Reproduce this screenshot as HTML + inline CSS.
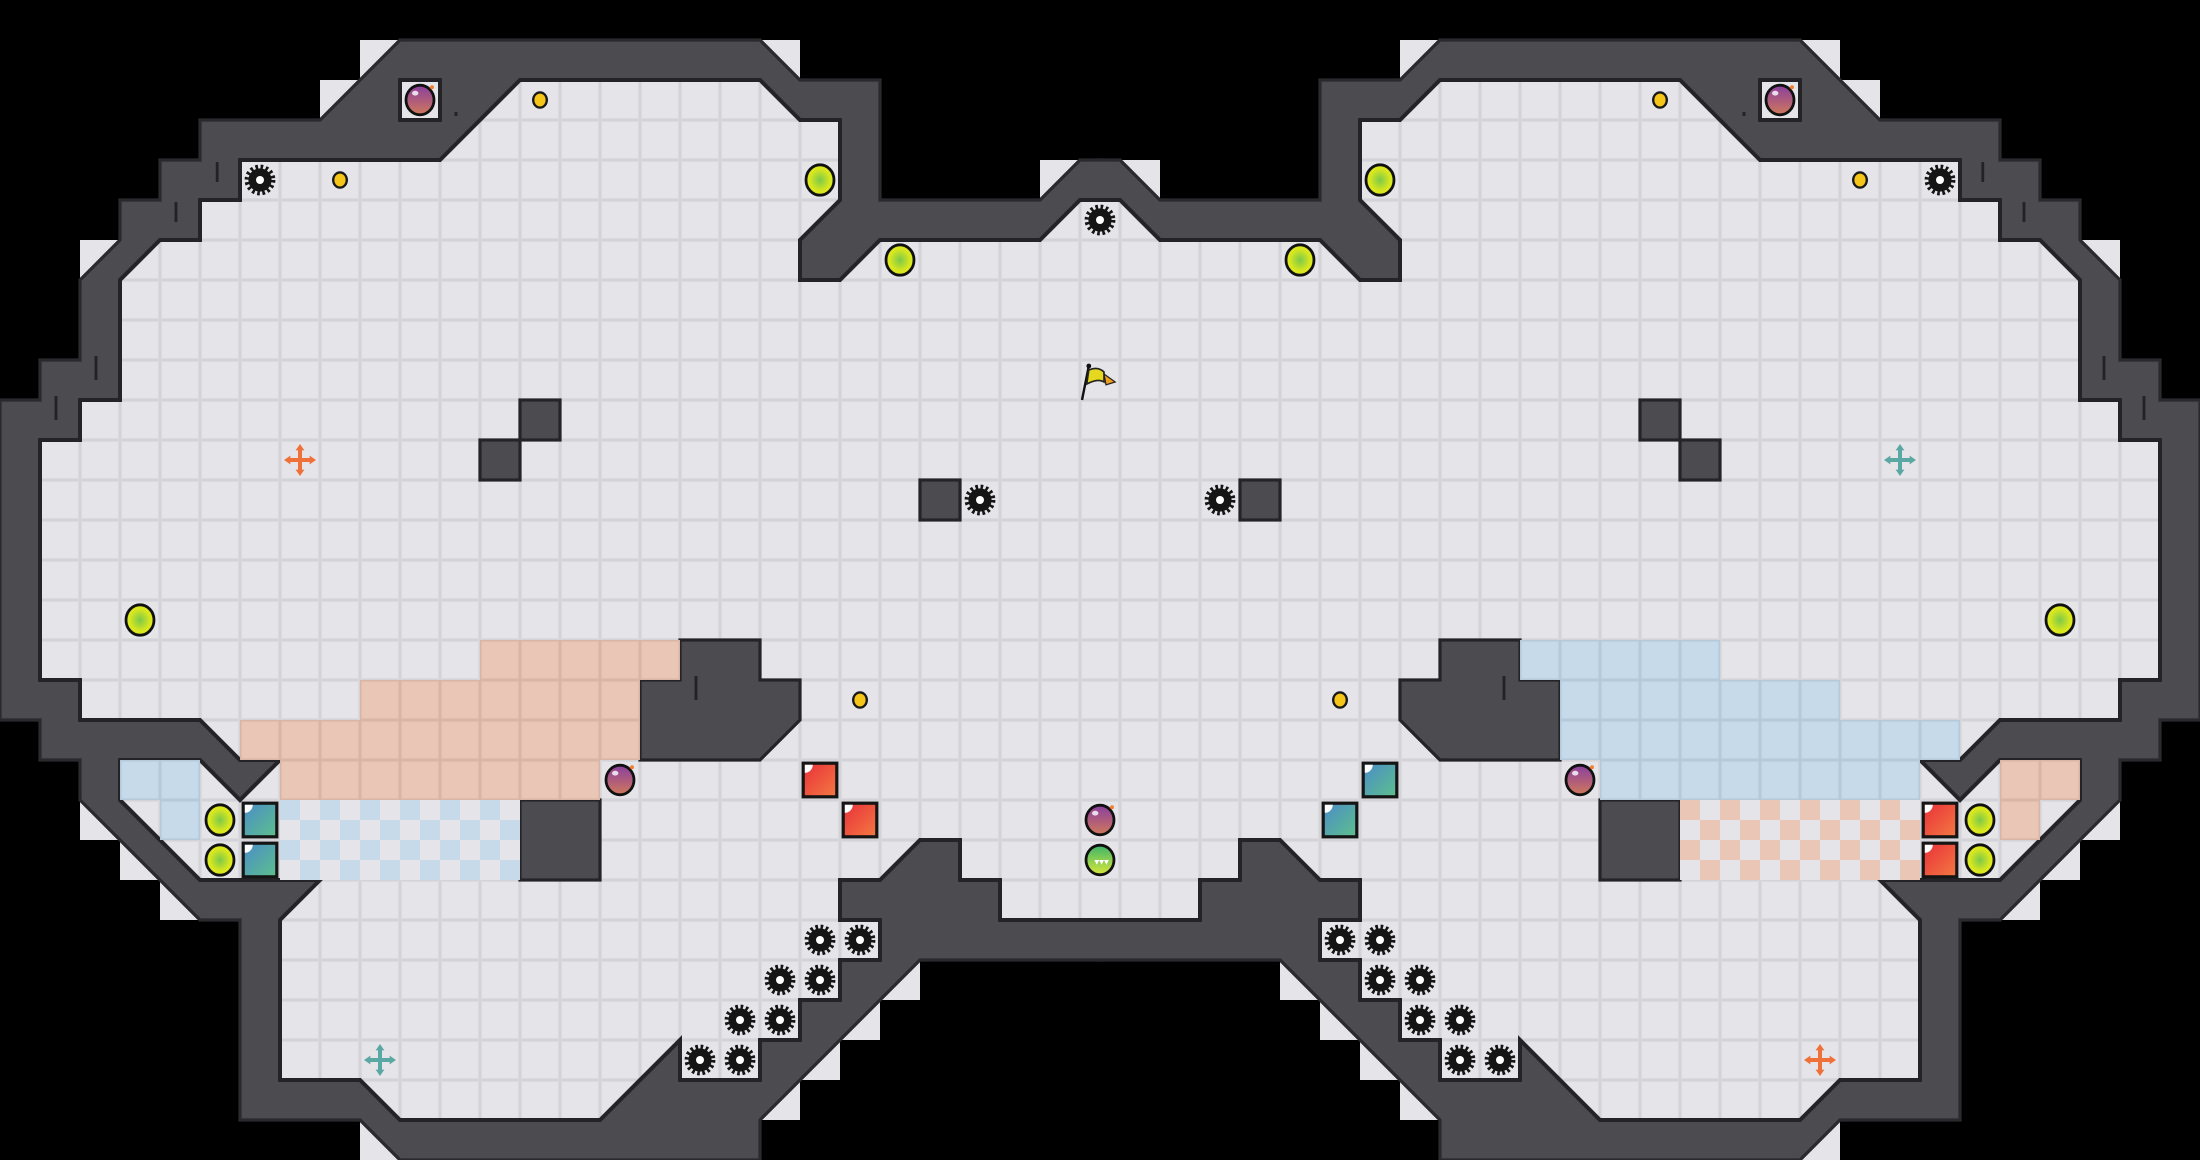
<!DOCTYPE html>
<html><head><meta charset="utf-8"><style>html,body{margin:0;padding:0;background:#000}svg{display:block}</style></head>
<body>
<svg width="2200" height="1160" viewBox="0 0 55 29" preserveAspectRatio="none" xmlns="http://www.w3.org/2000/svg">
<defs>
<pattern id="grid" width="1" height="1" patternUnits="userSpaceOnUse">
<rect width="1" height="1" fill="#d3d3d8"/><rect x="0.04" y="0.04" width="0.92" height="0.92" fill="#e5e5e9"/>
</pattern>
<pattern id="sal" width="1" height="1" patternUnits="userSpaceOnUse">
<rect width="1" height="1" fill="#d9b6a6"/><rect x="0.04" y="0.04" width="0.92" height="0.92" fill="#e9c6b6"/>
</pattern>
<pattern id="blu" width="1" height="1" patternUnits="userSpaceOnUse">
<rect width="1" height="1" fill="#b5cbdb"/><rect x="0.04" y="0.04" width="0.92" height="0.92" fill="#c6dae9"/>
</pattern>
<pattern id="chkb" width="1" height="1" patternUnits="userSpaceOnUse">
<rect width="1" height="1" fill="#e5e5e9"/><rect width="0.5" height="0.5" fill="#c6dae9"/><rect x="0.5" y="0.5" width="0.5" height="0.5" fill="#c6dae9"/>
</pattern>
<pattern id="chks" width="1" height="1" patternUnits="userSpaceOnUse">
<rect width="1" height="1" fill="#e5e5e9"/><rect width="0.5" height="0.5" fill="#e9c6b6"/><rect x="0.5" y="0.5" width="0.5" height="0.5" fill="#e9c6b6"/>
</pattern>
<radialGradient id="orbg" cx="0.5" cy="0.5" r="0.5"><stop offset="0" stop-color="#7cc84a"/><stop offset="0.75" stop-color="#dbe81e"/></radialGradient>
<linearGradient id="bombg" x1="0" y1="0" x2="0" y2="1"><stop offset="0" stop-color="#8a3f9e"/><stop offset="1" stop-color="#d0785a"/></linearGradient>
<linearGradient id="redg" x1="0" y1="0" x2="1" y2="1"><stop offset="0" stop-color="#e8303a"/><stop offset="1" stop-color="#f47a42"/></linearGradient>
<linearGradient id="tealg" x1="0" y1="0" x2="1" y2="1"><stop offset="0" stop-color="#4a8cc8"/><stop offset="1" stop-color="#5ec08c"/></linearGradient>
<linearGradient id="chompg" x1="0" y1="0" x2="0" y2="1"><stop offset="0" stop-color="#3cb46a"/><stop offset="1" stop-color="#d8e83a"/></linearGradient>

<g id="spike"><circle r="0.33" fill="none" stroke="#151515" stroke-width="0.11" stroke-dasharray="0.065 0.065"/><circle r="0.29" fill="#151515"/><circle r="0.1" fill="#fff"/></g>
<g id="coin"><ellipse rx="0.17" ry="0.19" fill="#f5c518" stroke="#1a1a1a" stroke-width="0.06"/></g>
<g id="orb"><ellipse rx="0.35" ry="0.38" fill="url(#orbg)" stroke="#111" stroke-width="0.07"/></g>
<g id="bomb"><ellipse rx="0.35" ry="0.37" fill="url(#bombg)" stroke="#111" stroke-width="0.07"/><ellipse cx="-0.12" cy="-0.17" rx="0.08" ry="0.06" fill="#fff" opacity="0.8"/><circle cx="0.3" cy="-0.32" r="0.05" fill="#f08030"/></g>
<g id="red"><rect x="-0.42" y="-0.42" width="0.84" height="0.84" fill="url(#redg)" stroke="#151515" stroke-width="0.08"/><path d="M-0.38,-0.38 h0.2 a0.2,0.2 0 0 1 -0.2,0.2z" fill="#fff"/></g>
<g id="teal"><rect x="-0.42" y="-0.42" width="0.84" height="0.84" fill="url(#tealg)" stroke="#151515" stroke-width="0.08"/><path d="M-0.38,-0.38 h0.2 a0.2,0.2 0 0 1 -0.2,0.2z" fill="#fff"/></g>
<g id="xor"><path d="M-0.3,0 H0.3 M0,-0.3 V0.3" stroke="#f0703a" stroke-width="0.1"/><path d="M-0.4,0 L-0.24,-0.11 L-0.24,0.11Z M0.4,0 L0.24,-0.11 L0.24,0.11Z M0,-0.4 L-0.11,-0.24 L0.11,-0.24Z M0,0.4 L-0.11,0.24 L0.11,0.24Z" fill="#f0703a"/></g>
<g id="xte"><path d="M-0.3,0 H0.3 M0,-0.3 V0.3" stroke="#5aa8a4" stroke-width="0.1"/><path d="M-0.4,0 L-0.24,-0.11 L-0.24,0.11Z M0.4,0 L0.24,-0.11 L0.24,0.11Z M0,-0.4 L-0.11,-0.24 L0.11,-0.24Z M0,0.4 L-0.11,0.24 L0.11,0.24Z" fill="#5aa8a4"/></g>

<g id="half">
  <g fill="#e5e5e9">
    <rect x="9" y="1" width="1" height="1"/><rect x="8" y="2" width="1" height="1"/><rect x="19" y="1" width="1" height="1"/>
    <rect x="26" y="4" width="1" height="1"/><rect x="2" y="6" width="1" height="1"/>
    <rect x="2" y="20" width="1" height="1"/><rect x="3" y="21" width="1" height="1"/><rect x="4" y="22" width="1" height="1"/>
    <rect x="9" y="28" width="1" height="1"/><rect x="19" y="27" width="1" height="1"/><rect x="20" y="26" width="1" height="1"/>
    <rect x="21" y="25" width="1" height="1"/><rect x="22" y="24" width="1" height="1"/>
  </g>
  <polygon fill="#4b4b50" points="27.6,4 27,4 26,5 22,5 22,2 20,2 19,1 10,1 8,3 5,3 5,4 4,4 4,5 3,5 3,6 2,7 2,9 1,9 1,10 0,10 0,18 1,18 1,19 2,19 2,20 5,23 6,23 6,28 9,28 10,29 19,29 19,28 23,24 27.6,24"/>
  <polyline fill="none" stroke="#2a2a2e" stroke-width="0.08" points="27.6,4 27,4 26,5 22,5 22,2 20,2 19,1 10,1 8,3 5,3 5,4 4,4 4,5 3,5 3,6 2,7 2,9 1,9 1,10 0,10 0,18 1,18 1,19 2,19 2,20 5,23 6,23 6,28 9,28 10,29 19,29 19,28 23,24 27.6,24"/>
  <polygon fill="url(#grid)" points="27.6,5 27,5 26,6 22,6 21,7 20,7 20,6 21,5 21,3 20,3 19,2 13,2 11,4 6,4 6,5 5,5 5,6 4,6 3,7 3,10 2,10 2,11 1,11 1,17 2,17 2,18 5,18 6,19 7,19 6,20 5,19 3,19 3,20 5,22 8,22 7,23 7,27 9,27 10,28 15,28 17,26 17,27 19,27 19,26 20,26 20,25 21,25 21,24 22,24 22,23 21,23 21,22 22,22 23,21 24,21 24,22 25,22 25,23 27.6,23"/>
  <polyline fill="none" stroke="#242428" stroke-width="0.1" points="27.6,5 27,5 26,6 22,6 21,7 20,7 20,6 21,5 21,3 20,3 19,2 13,2 11,4 6,4 6,5 5,5 5,6 4,6 3,7 3,10 2,10 2,11 1,11 1,17 2,17 2,18 5,18 6,19 7,19 6,20 5,19 3,19 3,20 5,22 8,22 7,23 7,27 9,27 10,28 15,28 17,26 17,27 19,27 19,26 20,26 20,25 21,25 21,24 22,24 22,23 21,23 21,22 22,22 23,21 24,21 24,22 25,22 25,23 27.6,23"/>
  <rect x="10" y="2" width="1" height="1" fill="#e5e5e9" stroke="#242428" stroke-width="0.1"/>
  <g fill="#4b4b50" stroke="#242428" stroke-width="0.08">
    <rect x="13" y="10" width="1" height="1"/><rect x="12" y="11" width="1" height="1"/><rect x="23" y="12" width="1" height="1"/>
    <rect x="13" y="20" width="2" height="2"/>
    <polygon points="17,16 19,16 19,17 20,17 20,18 19,19 16,19 16,17 17,17"/>
  </g>
  <g stroke="#232326" stroke-width="0.07">
    <path d="M5.43,4.05V4.55 M4.4,5.05V5.55 M2.4,8.9V9.5 M1.4,9.9V10.5 M17.4,16.9V17.5 M11.4,2.8V2.9"/>
  </g>
</g>
</defs>

<rect width="55" height="29" fill="#000"/>
<use href="#half"/>
<use href="#half" transform="translate(55,0) scale(-1,1)"/>

<g fill="url(#sal)">
  <rect x="12" y="16" width="5" height="1"/><rect x="9" y="17" width="7" height="1"/>
  <rect x="6" y="18" width="10" height="1"/><rect x="7" y="19" width="8" height="1"/>
  <rect x="50" y="19" width="2" height="1"/><rect x="50" y="20" width="1" height="1"/>
</g>
<g fill="url(#blu)">
  <rect x="3" y="19" width="2" height="1"/><rect x="4" y="20" width="1" height="1"/>
  <rect x="38" y="16" width="5" height="1"/><rect x="39" y="17" width="7" height="1"/>
  <rect x="39" y="18" width="10" height="1"/><rect x="40" y="19" width="8" height="1"/>
</g>
<rect x="7" y="20" width="6" height="2" fill="url(#chkb)"/>
<rect x="42" y="20" width="6" height="2" fill="url(#chks)"/>

<g>
<use href="#bomb" transform="translate(10.5,2.5)"/><use href="#bomb" transform="translate(15.5,19.5)"/><use href="#bomb" transform="translate(27.5,20.5)"/>
<use href="#bomb" transform="translate(44.5,2.5)"/><use href="#bomb" transform="translate(39.5,19.5)"/>
<use href="#coin" transform="translate(13.5,2.5)"/><use href="#coin" transform="translate(8.5,4.5)"/><use href="#coin" transform="translate(21.5,17.5)"/>
<use href="#coin" transform="translate(41.5,2.5)"/><use href="#coin" transform="translate(46.5,4.5)"/><use href="#coin" transform="translate(33.5,17.5)"/>
<use href="#spike" transform="translate(6.5,4.5)"/><use href="#spike" transform="translate(27.5,5.5)"/><use href="#spike" transform="translate(24.5,12.5)"/>
<use href="#spike" transform="translate(20.5,23.5)"/><use href="#spike" transform="translate(21.5,23.5)"/><use href="#spike" transform="translate(19.5,24.5)"/><use href="#spike" transform="translate(20.5,24.5)"/>
<use href="#spike" transform="translate(18.5,25.5)"/><use href="#spike" transform="translate(19.5,25.5)"/><use href="#spike" transform="translate(17.5,26.5)"/><use href="#spike" transform="translate(18.5,26.5)"/>
<use href="#spike" transform="translate(48.5,4.5)"/><use href="#spike" transform="translate(30.5,12.5)"/>
<use href="#spike" transform="translate(33.5,23.5)"/><use href="#spike" transform="translate(34.5,23.5)"/><use href="#spike" transform="translate(34.5,24.5)"/><use href="#spike" transform="translate(35.5,24.5)"/>
<use href="#spike" transform="translate(35.5,25.5)"/><use href="#spike" transform="translate(36.5,25.5)"/><use href="#spike" transform="translate(36.5,26.5)"/><use href="#spike" transform="translate(37.5,26.5)"/>
<use href="#orb" transform="translate(20.5,4.5)"/><use href="#orb" transform="translate(22.5,6.5)"/><use href="#orb" transform="translate(3.5,15.5)"/><use href="#orb" transform="translate(5.5,20.5)"/><use href="#orb" transform="translate(5.5,21.5)"/>
<use href="#orb" transform="translate(34.5,4.5)"/><use href="#orb" transform="translate(32.5,6.5)"/><use href="#orb" transform="translate(51.5,15.5)"/><use href="#orb" transform="translate(49.5,20.5)"/><use href="#orb" transform="translate(49.5,21.5)"/>
<use href="#red" transform="translate(20.5,19.5)"/><use href="#red" transform="translate(21.5,20.5)"/><use href="#red" transform="translate(48.5,20.5)"/><use href="#red" transform="translate(48.5,21.5)"/>
<use href="#teal" transform="translate(6.5,20.5)"/><use href="#teal" transform="translate(6.5,21.5)"/><use href="#teal" transform="translate(34.5,19.5)"/><use href="#teal" transform="translate(33.5,20.5)"/>
<use href="#xor" transform="translate(7.5,11.5)"/><use href="#xor" transform="translate(45.5,26.5)"/>
<use href="#xte" transform="translate(47.5,11.5)"/><use href="#xte" transform="translate(9.5,26.5)"/>
</g>
<g transform="translate(27.5,21.5)"><ellipse rx="0.35" ry="0.37" fill="url(#chompg)" stroke="#111" stroke-width="0.07"/><path d="M-0.22,0 H0.22 L0.16,0.12 L0.1,0 L0.04,0.12 L-0.02,0 L-0.08,0.12 L-0.14,0 Z" fill="#fff"/></g>
<g>
<line x1="27.22" y1="9.15" x2="27.05" y2="10" stroke="#111" stroke-width="0.06"/>
<circle cx="27.22" cy="9.15" r="0.06" fill="#111"/>
<path d="M27.22,9.25 Q27.45,9.15 27.6,9.3 L27.6,9.55 Q27.45,9.45 27.17,9.6 Z" fill="#e6d81e" stroke="#222" stroke-width="0.04"/>
<path d="M27.6,9.35 L27.88,9.55 L27.65,9.62 Z" fill="#f0a020" stroke="#222" stroke-width="0.03"/>
</g>
</svg>
</body></html>
